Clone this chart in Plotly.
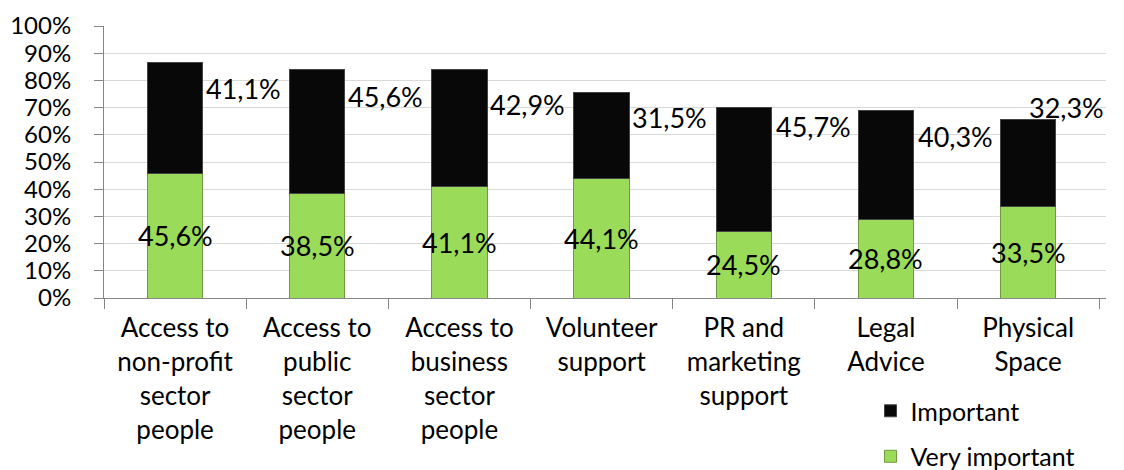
import plotly.graph_objects as go

categories = [
    "Access to<br>non-profit<br>sector<br>people",
    "Access to<br>public<br>sector<br>people",
    "Access to<br>business<br>sector<br>people",
    "Volunteer<br>support",
    "PR and<br>marketing<br>support",
    "Legal<br>Advice",
    "Physical<br>Space",
]
very_important = [45.6, 38.5, 41.1, 44.1, 24.5, 28.8, 33.5]
important = [41.1, 45.6, 42.9, 31.5, 45.7, 40.3, 32.3]

# label placement (positions only, not data)
imp_label_y = [77.2, 73.9, 71.0, 66.2, 63.2, 59.2, 69.9]
imp_label_dx = [0.48, 0.48, 0.48, 0.48, 0.49, 0.49, 0.27]

FONT = "Lato"
GREEN = "#9bdb5a"
BLACK = "#080808"

def fmt(v):
    return f"{v:.1f}".replace(".", ",") + "%"

fig = go.Figure()
fig.add_trace(go.Bar(
    x=categories, y=very_important, name="Very important",
    marker=dict(color=GREEN, line=dict(color="#6f9a3f", width=1)),
    width=0.39, legendgroup="a", legendrank=2, hoverinfo="skip",
))
fig.add_trace(go.Bar(
    x=categories, y=important, name="Important",
    marker=dict(color=BLACK, line=dict(color="#444444", width=1)),
    width=0.39, legendgroup="b", legendrank=1, hoverinfo="skip",
))

annotations = []
for i, v in enumerate(very_important):
    annotations.append(dict(x=i, y=v / 2, xref="x", yref="y", text=fmt(v),
                            showarrow=False, font=dict(family=FONT, size=27, color="black")))
for i, v in enumerate(important):
    annotations.append(dict(x=i + imp_label_dx[i], y=imp_label_y[i], xref="x", yref="y",
                            text=fmt(v), showarrow=False,
                            font=dict(family=FONT, size=27, color="black")))

fig.update_layout(
    barmode="stack",
    width=1124, height=470,
    margin=dict(l=96, r=26, t=18, b=180, autoexpand=False),
    paper_bgcolor="white", plot_bgcolor="white",
    font=dict(family=FONT, size=25, color="black"),
    annotations=annotations,
    showlegend=True,
    legend=dict(
        x=0.765, xanchor="left", y=-0.331, yanchor="top",
        traceorder="grouped", tracegroupgap=10,
        font=dict(family=FONT, size=25, color="black"),
        bgcolor="rgba(0,0,0,0)",
    ),
    xaxis=dict(
        type="category", tickson="boundaries", ticks="outside", ticklen=10,
        tickcolor="#868686", showline=True, linecolor="#868686", linewidth=1,
        showgrid=False, tickfont=dict(family=FONT, size=26, color="black"),
        ticklabelstandoff=7, automargin=False,
    ),
    yaxis=dict(
        range=[0, 100], dtick=10, ticksuffix="%", ticks="outside", ticklen=9,
        tickcolor="#868686", showline=True, linecolor="#868686", linewidth=1,
        showgrid=True, gridcolor="#d9d9d9", gridwidth=1,
        tickfont=dict(family=FONT, size=24, color="black"),
        ticklabelstandoff=18, zeroline=False, automargin=False,
    ),
)

fig.write_html("out.html")
